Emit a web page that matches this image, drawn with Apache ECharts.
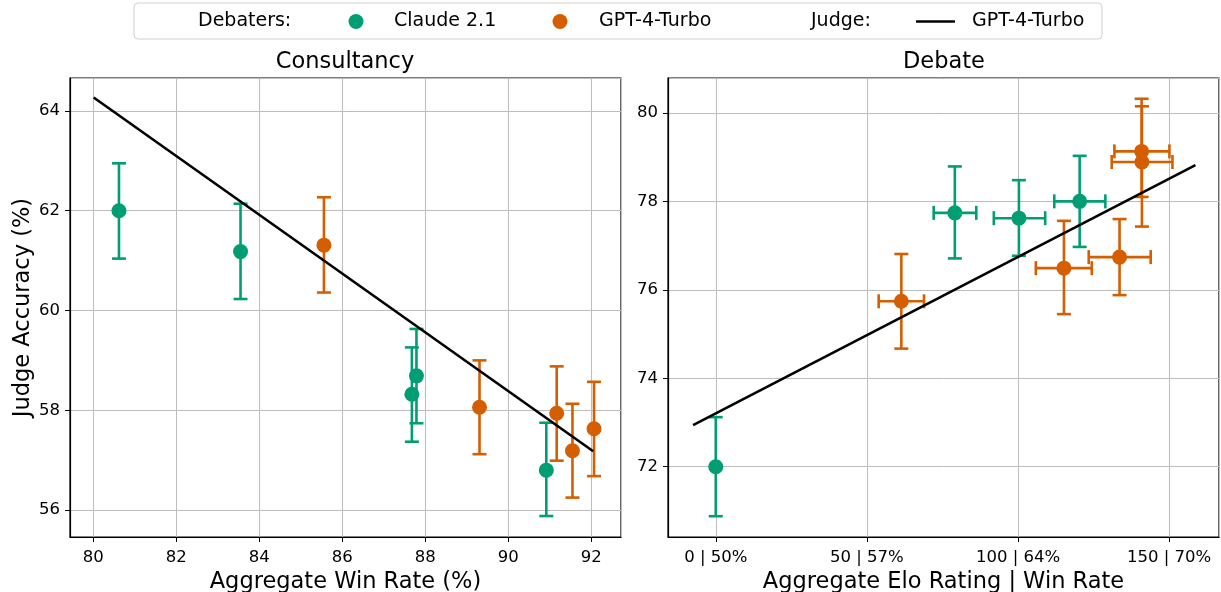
<!DOCTYPE html>
<html><head><meta charset="utf-8">
<script src="https://cdn.jsdelivr.net/npm/echarts@6/dist/echarts.min.js"></script>
<style>html,body{margin:0;padding:0;background:#fff}#c{width:1221px;height:592px}</style>
</head><body><div id="c"></div>
<script>
const FONT = 'DejaVu Sans';
const GREEN = '#029E73', ORANGE = '#D55E00';

// ---- Consultancy (left) ----
const consClaudeX   = [80.62, 83.55, 87.68, 87.79, 90.92];
const consClaudeY   = [62.00, 61.18, 58.32, 58.69, 56.80];
const consClaudeYLo = [61.04, 60.23, 57.37, 57.74, 55.88];
const consClaudeYHi = [62.95, 62.14, 59.26, 59.63, 57.75];
const consGptX   = [85.56, 89.31, 91.17, 91.55, 92.07];
const consGptY   = [61.31, 58.06, 57.94, 57.19, 57.63];
const consGptYLo = [60.36, 57.12, 56.99, 56.25, 56.68];
const consGptYHi = [62.27, 59.00, 58.88, 58.13, 58.57];
const consFitX = [80.01, 92.05];
const consFitY = [64.27, 57.18];

// ---- Debate (right) ----
const debClaudeX   = [0, 79.1, 100.3, 120.4];
const debClaudeY   = [72.00, 77.74, 77.62, 78.00];
const debClaudeYLo = [70.88, 76.71, 76.77, 76.97];
const debClaudeYHi = [73.12, 78.79, 78.48, 79.03];
const debClaudeXLo = [0, 72.1, 92.0, 112.0];
const debClaudeXHi = [0, 86.2, 109.0, 128.9];
const debGptX   = [61.4, 115.2, 133.6, 140.9, 141.0];
const debGptY   = [75.74, 76.49, 76.74, 79.13, 78.89];
const debGptYLo = [74.67, 75.45, 75.88, 78.10, 77.43];
const debGptYHi = [76.81, 77.56, 77.60, 80.32, 80.15];
const debGptXLo = [53.9, 105.9, 123.4, 131.9, 131.0];
const debGptXHi = [68.9, 124.4, 143.9, 150.1, 151.1];
const debFitX = [-7.5, 158.7];
const debFitY = [72.94, 78.82];

const eloTicks = [0, 50, 100, 150];
const winRateTicks = ['50%', '57%', '64%', '70%'];

function pts(xs, ys) { return xs.map((x, i) => [x, ys[i]]); }
function errData(xs, ys, ylo, yhi, xlo, xhi) {
  return xs.map((x, i) => [x, ys[i], ylo[i], yhi[i], xlo ? xlo[i] : x, xhi ? xhi[i] : x]);
}
function errRender(color) {
  return function (params, api) {
    const x = api.value(0), y = api.value(1);
    const ylo = api.value(2), yhi = api.value(3), xlo = api.value(4), xhi = api.value(5);
    const cap = 7;
    const style = { stroke: color, lineWidth: 2.6, fill: null };
    const a = api.coord([x, ylo]), b = api.coord([x, yhi]);
    const ch = [
      { type: 'line', shape: { x1: a[0], y1: a[1], x2: b[0], y2: b[1] }, style },
      { type: 'line', shape: { x1: a[0] - cap, y1: a[1], x2: a[0] + cap, y2: a[1] }, style },
      { type: 'line', shape: { x1: b[0] - cap, y1: b[1], x2: b[0] + cap, y2: b[1] }, style }
    ];
    if (xhi > xlo) {
      const c = api.coord([xlo, y]), d = api.coord([xhi, y]);
      ch.push({ type: 'line', shape: { x1: c[0], y1: c[1], x2: d[0], y2: d[1] }, style });
      ch.push({ type: 'line', shape: { x1: c[0], y1: c[1] - cap, x2: c[0], y2: c[1] + cap }, style });
      ch.push({ type: 'line', shape: { x1: d[0], y1: d[1] - cap, x2: d[0], y2: d[1] + cap }, style });
    }
    return { type: 'group', children: ch };
  };
}

const axisCommon = {
  axisLine: { show: true, onZero: false, lineStyle: { color: '#000', width: 1.2 } },
  axisTick: { show: true, length: 5, lineStyle: { color: '#000', width: 1 } },
  axisLabel: { color: '#000', fontSize: 16.5, fontFamily: FONT, margin: 10, showMinLabel: false, showMaxLabel: false },
  splitLine: { show: true, lineStyle: { color: '#bdbdbd', width: 1 } },
  nameLocation: 'middle',
  nameTextStyle: { color: '#000', fontSize: 22.5, fontFamily: FONT }
};

const gridL = { left: 70, top: 78, width: 551, height: 459, show: true, borderColor: '#000', borderWidth: 1.2,
  containLabel: false, outerBoundsMode: 'none' };
const gridR = { left: 668, top: 78, width: 551, height: 459, show: true, borderColor: '#000', borderWidth: 1.2,
  containLabel: false, outerBoundsMode: 'none' };

const xLabel = Object.assign({}, axisCommon.axisLabel, { margin: 12 });

const option = {
  animation: false,
  backgroundColor: '#fff',
  textStyle: { fontFamily: FONT },
  title: [
    { text: 'Consultancy', left: 345, top: 51, textAlign: 'center', padding: 0,
      textStyle: { fontFamily: FONT, fontSize: 22.5, fontWeight: 'normal', color: '#000' } },
    { text: 'Debate', left: 944, top: 51, textAlign: 'center', padding: 0,
      textStyle: { fontFamily: FONT, fontSize: 22.5, fontWeight: 'normal', color: '#000' } }
  ],
  grid: [gridL, gridR],
  xAxis: [
    Object.assign({}, axisCommon, { type: 'value', gridIndex: 0, min: 79.44, max: 92.72, minInterval: 2, maxInterval: 2, splitNumber: 7,
      name: 'Aggregate Win Rate (%)', nameGap: 32, axisLabel: xLabel }),
    Object.assign({}, axisCommon, { type: 'value', gridIndex: 1, min: -15.8, max: 166.5, minInterval: 50, maxInterval: 50, splitNumber: 4,
      name: 'Aggregate Elo Rating | Win Rate', nameGap: 32,
      axisLabel: Object.assign({}, xLabel, {
        formatter: v => { const i = eloTicks.indexOf(v); return i >= 0 ? v + ' | ' + winRateTicks[i] : ''; } }) })
  ],
  yAxis: [
    Object.assign({}, axisCommon, { type: 'value', gridIndex: 0, min: 55.46, max: 64.66, minInterval: 2, maxInterval: 2, splitNumber: 5,
      name: 'Judge Accuracy (%)', nameGap: 34 }),
    Object.assign({}, axisCommon, { type: 'value', gridIndex: 1, min: 70.41, max: 80.79, minInterval: 2, maxInterval: 2, splitNumber: 5 })
  ],
  series: [
    { type: 'custom', xAxisIndex: 0, yAxisIndex: 0, renderItem: errRender(GREEN), z: 2,
      data: errData(consClaudeX, consClaudeY, consClaudeYLo, consClaudeYHi), encode: { x: 0, y: 1 } },
    { type: 'custom', xAxisIndex: 0, yAxisIndex: 0, renderItem: errRender(ORANGE), z: 2,
      data: errData(consGptX, consGptY, consGptYLo, consGptYHi), encode: { x: 0, y: 1 } },
    { type: 'scatter', xAxisIndex: 0, yAxisIndex: 0, symbolSize: 15, itemStyle: { color: GREEN, opacity: 1 }, z: 3,
      data: pts(consClaudeX, consClaudeY) },
    { type: 'scatter', xAxisIndex: 0, yAxisIndex: 0, symbolSize: 15, itemStyle: { color: ORANGE, opacity: 1 }, z: 3,
      data: pts(consGptX, consGptY) },
    { type: 'line', xAxisIndex: 0, yAxisIndex: 0, symbol: 'none', z: 4,
      lineStyle: { color: '#000', width: 2.6 }, data: pts(consFitX, consFitY) },

    { type: 'custom', xAxisIndex: 1, yAxisIndex: 1, renderItem: errRender(GREEN), z: 2,
      data: errData(debClaudeX, debClaudeY, debClaudeYLo, debClaudeYHi, debClaudeXLo, debClaudeXHi), encode: { x: 0, y: 1 } },
    { type: 'custom', xAxisIndex: 1, yAxisIndex: 1, renderItem: errRender(ORANGE), z: 2,
      data: errData(debGptX, debGptY, debGptYLo, debGptYHi, debGptXLo, debGptXHi), encode: { x: 0, y: 1 } },
    { type: 'scatter', xAxisIndex: 1, yAxisIndex: 1, symbolSize: 15, itemStyle: { color: GREEN, opacity: 1 }, z: 3,
      data: pts(debClaudeX, debClaudeY) },
    { type: 'scatter', xAxisIndex: 1, yAxisIndex: 1, symbolSize: 15, itemStyle: { color: ORANGE, opacity: 1 }, z: 3,
      data: pts(debGptX, debGptY) },
    { type: 'line', xAxisIndex: 1, yAxisIndex: 1, symbol: 'none', z: 4,
      lineStyle: { color: '#000', width: 2.6 }, data: pts(debFitX, debFitY) }
  ],
  graphic: [
    { type: 'rect', shape: { x: 134, y: 3, width: 968, height: 36, r: 4 }, style: { fill: '#fff', stroke: '#d0d0d0', lineWidth: 1 } },
    { type: 'text', x: 198, y: 21.5, style: { text: 'Debaters:', fontSize: 19, fontFamily: FONT, fill: '#000', verticalAlign: 'middle' } },
    { type: 'circle', shape: { cx: 356, cy: 21.5, r: 7.5 }, style: { fill: GREEN } },
    { type: 'text', x: 394, y: 21.5, style: { text: 'Claude 2.1', fontSize: 19, fontFamily: FONT, fill: '#000', verticalAlign: 'middle' } },
    { type: 'circle', shape: { cx: 560, cy: 21.5, r: 7.5 }, style: { fill: ORANGE } },
    { type: 'text', x: 599, y: 21.5, style: { text: 'GPT-4-Turbo', fontSize: 19, fontFamily: FONT, fill: '#000', verticalAlign: 'middle' } },
    { type: 'text', x: 811, y: 21.5, style: { text: 'Judge:', fontSize: 19, fontFamily: FONT, fill: '#000', verticalAlign: 'middle' } },
    { type: 'line', shape: { x1: 916, y1: 21.5, x2: 955, y2: 21.5 }, style: { stroke: '#000', lineWidth: 2.5 } },
    { type: 'text', x: 972, y: 21.5, style: { text: 'GPT-4-Turbo', fontSize: 19, fontFamily: FONT, fill: '#000', verticalAlign: 'middle' } }
  ]
};

const chart = echarts.init(document.getElementById('c'), null, { renderer: 'canvas' });
chart.setOption(option);
</script>
</body></html>
